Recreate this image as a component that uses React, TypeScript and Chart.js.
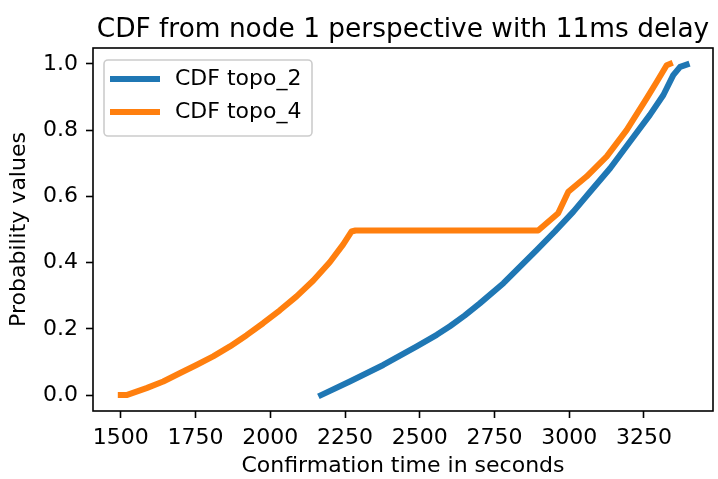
import React, { useEffect, useRef } from "react";
import { Chart, registerables } from "chart.js";

Chart.register(...registerables);

const titleText = "CDF from node 1 perspective with 11ms delay";
const xLabel = "Confirmation time in seconds";
const yLabel = "Probability values";

const xTicks = [1500, 1750, 2000, 2250, 2500, 2750, 3000, 3250];
const yTicks = [0, 0.2, 0.4, 0.6, 0.8, 1.0];

const seriesLabels = ["CDF topo_2", "CDF topo_4"];
const seriesColors = ["#1f77b4", "#ff7f0e"];

const topo2X = [2170, 2266, 2378, 2490, 2557, 2601, 2650, 2701, 2780, 2891, 2952, 3014, 3070, 3137, 3203, 3270, 3315, 3348, 3371, 3393];
const topo2Y = [0, 0.041, 0.091, 0.147, 0.182, 0.208, 0.240, 0.277, 0.338, 0.438, 0.494, 0.554, 0.614, 0.685, 0.765, 0.846, 0.906, 0.966, 0.991, 0.998];

const topo4X = [1500, 1519, 1586, 1642, 1697, 1753, 1809, 1865, 1921, 1976, 2032, 2088, 2144, 2199, 2244, 2272, 2285, 2896, 2963, 2997, 3058, 3125, 3192, 3259, 3293, 3326, 3337];
const topo4Y = [0, 0, 0.021, 0.041, 0.066, 0.091, 0.117, 0.147, 0.181, 0.217, 0.256, 0.298, 0.346, 0.401, 0.455, 0.494, 0.497, 0.497, 0.549, 0.614, 0.66, 0.72, 0.8, 0.896, 0.946, 0.996, 1.0];

const FONT = "'DejaVu Sans', sans-serif";
const FS = 22;

export default function App() {
  const ref = useRef<HTMLCanvasElement>(null);

  useEffect(() => {
    if (!ref.current) return;

    const framePlugin = {
      id: "frameLegend",
      afterDraw(chart: any) {
        const { ctx, chartArea: a } = chart;
        ctx.save();
        // axes box
        ctx.strokeStyle = "#000";
        ctx.lineWidth = 1.6;
        ctx.strokeRect(a.left, a.top, a.right - a.left, a.bottom - a.top);

        // title centred over the plot area
        ctx.fillStyle = "#000";
        ctx.font = `26.4px ${FONT}`;
        ctx.textAlign = "center";
        ctx.textBaseline = "alphabetic";
        ctx.fillText(titleText, (a.left + a.right) / 2, a.top - 11.5);

        // legend
        const bx = a.left + 11;
        const by = a.top + 12;
        const bw = 208;
        const bh = 76;
        const r = 4;
        ctx.beginPath();
        ctx.moveTo(bx + r, by);
        ctx.lineTo(bx + bw - r, by);
        ctx.arcTo(bx + bw, by, bx + bw, by + r, r);
        ctx.lineTo(bx + bw, by + bh - r);
        ctx.arcTo(bx + bw, by + bh, bx + bw - r, by + bh, r);
        ctx.lineTo(bx + r, by + bh);
        ctx.arcTo(bx, by + bh, bx, by + bh - r, r);
        ctx.lineTo(bx, by + r);
        ctx.arcTo(bx, by, bx + r, by, r);
        ctx.closePath();
        ctx.fillStyle = "rgba(255,255,255,0.8)";
        ctx.fill();
        ctx.strokeStyle = "#cccccc";
        ctx.lineWidth = 1.6;
        ctx.stroke();

        const rows = [a.top + 31, a.top + 64];
        seriesLabels.forEach((label, i) => {
          const y = rows[i];
          ctx.beginPath();
          ctx.strokeStyle = seriesColors[i];
          ctx.lineWidth = 6;
          ctx.lineCap = "butt";
          ctx.moveTo(a.left + 17, y);
          ctx.lineTo(a.left + 67, y);
          ctx.stroke();
          ctx.fillStyle = "#000";
          ctx.font = `${FS}px ${FONT}`;
          ctx.textBaseline = "middle";
          ctx.textAlign = "left";
          ctx.fillText(label, a.left + 82, y);
        });
        ctx.restore();
      },
    };

    const makePts = (xs: number[], ys: number[]) => xs.map((x, i) => ({ x, y: ys[i] }));

    const lineDs = (i: number, xs: number[], ys: number[]) => ({
      label: seriesLabels[i],
      data: makePts(xs, ys),
      borderColor: seriesColors[i],
      backgroundColor: seriesColors[i],
      borderWidth: 6,
      pointRadius: 0,
      tension: 0,
      borderCapStyle: "square",
      borderJoinStyle: "round",
      fill: false,
    });

    const chart = new Chart(ref.current, {
      type: "line",
      data: {
        datasets: [lineDs(0, topo2X, topo2Y), lineDs(1, topo4X, topo4Y)],
      },
      options: {
        responsive: false,
        animation: false,
        devicePixelRatio: 1,
        layout: { padding: { left: 0, right: 5, top: 48, bottom: 0 } },
        plugins: {
          legend: { display: false },
          tooltip: { enabled: false },
          title: { display: false },
        },
        scales: {
          x: {
            type: "linear",
            min: 1407,
            max: 3481,
            border: { display: false },
            grid: {
              drawOnChartArea: false,
              drawTicks: true,
              tickLength: 7,
              tickWidth: 1.6,
              tickColor: "#000",
            },
            ticks: {
              color: "#000",
              font: { family: FONT, size: FS, lineHeight: 1.2 },
              padding: 7,
              autoSkip: false,
              maxRotation: 0,
              callback: (v: any) => String(v),
            },
            afterBuildTicks: (scale: any) => {
              scale.ticks = xTicks.map((v) => ({ value: v }));
            },
            afterFit: (scale: any) => {
              scale.height = 68;
            },
            title: {
              display: true,
              text: xLabel,
              color: "#000",
              font: { family: FONT, size: FS, lineHeight: 1.2 },
              padding: { top: 0, bottom: 0 },
            },
          },
          y: {
            type: "linear",
            min: -0.048,
            max: 1.048,
            border: { display: false },
            grid: {
              drawOnChartArea: false,
              drawTicks: true,
              tickLength: 7,
              tickWidth: 1.6,
              tickColor: "#000",
            },
            ticks: {
              color: "#000",
              font: { family: FONT, size: FS, lineHeight: 1.2 },
              padding: 8,
              autoSkip: false,
              callback: (v: any) => Number(v).toFixed(1),
            },
            afterBuildTicks: (scale: any) => {
              scale.ticks = yTicks.map((v) => ({ value: v }));
            },
            afterFit: (scale: any) => {
              scale.width = 93;
            },
            title: {
              display: true,
              text: yLabel,
              color: "#000",
              font: { family: FONT, size: FS, lineHeight: 1.2 },
              padding: { top: 6, bottom: 0 },
            },
          },
        },
      },
      plugins: [framePlugin],
    } as any);

    return () => chart.destroy();
  }, []);

  return (
    <div style={{ position: "absolute", left: 0, top: 0, width: 718, height: 479 }}>
      <canvas ref={ref} width={718} height={479} style={{ display: "block" }} />
    </div>
  );
}
